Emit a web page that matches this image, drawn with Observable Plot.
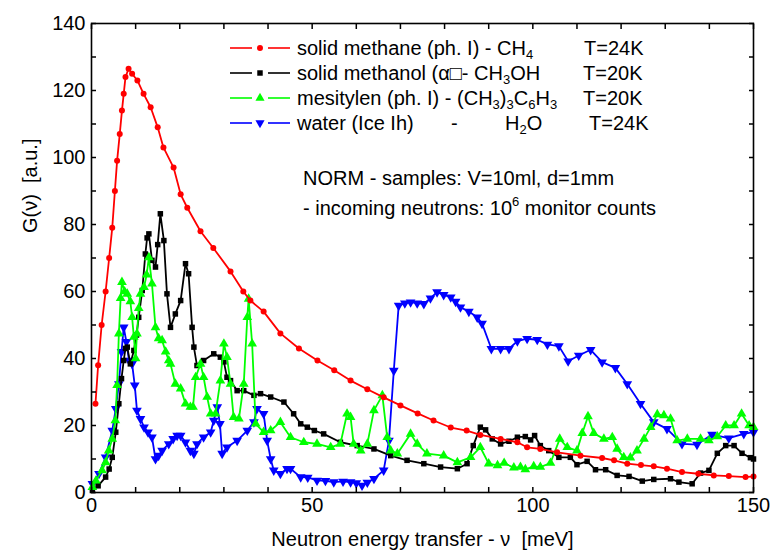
<!DOCTYPE html>
<html><head><meta charset="utf-8">
<script src="https://cdn.jsdelivr.net/npm/d3@7"></script>
<script src="https://cdn.jsdelivr.net/npm/@observablehq/plot@0.6"></script>
<style>body{margin:0;background:#fff;font-family:"Liberation Sans",Arial,sans-serif;}</style>
</head><body><div id="chart"></div>
<script>
// ---- data ----
const methaneE = [0.9,1.5,2.3,3.2,4.0,4.7,5.3,5.8,6.4,6.9,7.3,7.7,8.4,9.2,10.4,11.8,13.4,15.0,16.3,18.6,20.2,21.7,24.7,27.6,31.5,34.4,36,39,42.8,47,51.2,55,58.7,62.5,66.2,70,73.9,77.5,81.4,85,88.1,92.7,96.5,98.7,101.7,105.5,110.8,115.7,118.4,121.4,124.5,127.4,130.4,133.8,137.5,141,144.4,148.2,150];
const methaneG = [26.5,38,50,60,70,79,90,99,107,114,119,124,126.5,125,123,119,115,109,103,97,89,85,78,73,66,60,57.3,54,47.5,43,39.4,36.5,33.4,30.8,28.4,26,23.6,21.5,19.4,18.5,17.2,16,15,13.5,13,12,11,10.3,9.6,8.6,8.2,7.8,7.1,6.1,5.6,5.1,4.9,4.6,4.8];

const methanolE = [0.2,1.5,3.2,4.0,4.7,5.5,6.2,6.8,7.3,7.7,8.1,8.8,9.6,10.2,10.7,11.5,12.2,12.6,13.0,13.7,14.5,15.0,15.6,16.4,17.1,17.9,19.0,20.2,21.3,22.0,22.8,23.2,23.9,25.4,27.7,29.2,30.0,30.7,31.5,33.0,34.5,36.8,38.3,40.6,43.6,45.8,47.4,48.9,50.5,52.6,56.4,60.2,64,67.8,71.5,75.3,79.1,82.9,85.1,86.5,88.1,89.3,90.8,92.7,94.6,96.5,98.3,99.5,100.4,101.7,103.6,105.9,108.5,110,112.3,114.2,116.5,119.1,121.8,124.8,127.4,131.2,133.1,136.1,138,139.9,141.8,143.7,145.6,147.4,149.3,150];
const methanolG = [0.6,2,4.6,7,10.5,18,26.5,34,39.4,43,43.4,38.4,42.4,47,52.3,60.3,71.2,76,77.2,69.3,67.3,74,83.2,75.2,59.3,49.3,53.3,57.3,68.3,65.3,49.3,43.4,37.9,39.4,41.4,40.4,39,34.4,33.4,30.4,30.4,29,29.5,28.5,27,23.5,20.5,19.5,18.5,17.5,15,14,13,11,9.6,8.6,7.6,7.1,8.6,14,19.5,18.7,16,14.5,15.3,16.5,16.7,15.7,17,14,12.5,10.5,10.5,8.3,9.3,6.8,6.8,5.1,4.8,3.4,3.9,4.1,3.1,2.6,5.8,6.6,11.7,14,14,11.7,10.4,10];

const mesityleneE = [0.2,1.0,2.4,3.2,3.9,4.7,5.4,5.8,6.2,6.6,6.9,7.5,8.1,8.8,9.2,9.6,10.0,10.3,10.7,11.1,11.9,12.5,13.0,13.7,14.5,15.2,16.0,16.8,17.5,17.9,19,20.2,21.3,22.4,23.0,23.6,24.7,25.4,26.2,27.0,28.1,29.2,30.0,30.7,31.5,32.2,33.4,34.5,35.3,35.6,36.4,37.2,39,40.6,42.8,45.1,48.1,51.1,54.2,56.4,57.9,58.7,59.4,61,62.5,64,65.9,67,67.8,69.3,72.3,73.8,76,79.8,82.9,85.9,88.1,90,92,93.5,95.7,97.2,98.3,100.2,101.7,104,106.1,107.8,110,111.2,112.5,113.8,116.1,118,119.1,120.6,122.1,123.6,125.2,126.7,128.2,129.7,131.2,132.7,135,138,139.9,141.8,143.7,145.6,147.3,149,150];
const mesityleneG = [1.6,3.5,6.6,9,12.5,16,21.5,32,47.4,58,62.8,60,59.3,57,52.3,46.4,40,47.4,55,59.3,61.3,65,70.2,62.3,49.3,46,45.4,42,39.4,38.4,32.4,31,26.5,25.5,25.5,34.4,38.4,34.4,28.5,23.5,23.5,33.4,44.4,40.4,32.4,22.5,22,32.4,52.3,57.8,44.4,20.5,18,18.5,21,16.5,15,14.5,13.5,14.5,23.5,22.5,14.5,12.5,14.5,24.5,29,16.5,12.5,11.6,17.5,14.5,11.6,11,9,10.5,13.5,8.6,8.1,8.8,7.4,7.6,6.9,7.8,7.6,8.8,16,13.5,12.5,17.7,22.7,17.7,16,16.5,13,10.5,10.4,12.5,16,19.5,23.3,23,22,15.5,16,16,15.5,16.7,20,20,23.5,20,19.5];

const waterE = [0.2,1.7,3.2,4.7,5.5,6.2,6.8,7.3,7.9,8.5,9.2,9.8,10.3,11.1,11.9,12.8,13.7,14.5,15.2,16.0,17.5,18.5,19.4,20.2,21.3,22.4,23.2,23.9,25.4,27.0,27.7,28.5,29.1,29.6,30.7,33.0,35.3,36.8,37.5,39.0,39.8,40.6,41.3,42.8,44.3,45.1,47.4,49,51.1,53,54.9,57,58.7,60,61.3,62.5,64,66.2,67.4,68.5,69.6,71,72.3,73.8,75.3,76.8,78.3,79.8,81.4,82.5,83.6,85.5,87.4,88.5,90.6,92.7,94.6,96.5,98.7,101,103.3,105.9,108,110.4,113.1,115.7,118.7,121.4,124.4,127.4,130.4,133.8,137.2,140.6,144.4,147.8,150];
const waterG = [2.6,5.6,10.5,18.5,25,32.4,42,49.3,45,39.4,38.4,32,24.5,22,19.5,18,16.5,10,11,12.5,14.5,16,17,17,15,12.5,11.6,14.5,16.5,18,21.5,25.5,20.5,11.6,13.5,15.5,18.5,21,25,23.5,15.5,10,6.6,5.6,7.1,7.1,4.6,4.5,3.6,3.5,3.1,3.3,3.1,2.8,2.1,3,4.1,6.6,15.5,36.4,55.8,56.5,56.8,56.5,56.3,58,59.8,59,58.3,57,55.3,54,52.3,50.4,42.9,42.9,42.9,45.2,45.9,45.6,44.2,43.7,39.2,40.9,42.6,38.9,37.2,32.4,26.5,21,19,14.5,14.3,17.3,16.2,17.5,18];

const xMajorTicks = [0, 50, 100, 150];
const xMinorTicks = [0,10,20,30,40,50,60,70,80,90,100,110,120,130,140,150];
const yMajorTicks = [0, 20, 40, 60, 80, 100, 120, 140];
const yMinorTicks = [0,10,20,30,40,50,60,70,80,90,100,110,120,130,140];

const xTitle = "Neutron energy transfer - \u03BD  [meV]";
const yTitle = "G(\u03BD)  [a.u.]";

// ---- build table ----
const triangleDown = {
  draw(ctx, size) {
    const s3 = Math.sqrt(3);
    const y = -Math.sqrt(size / (s3 * 3));
    ctx.moveTo(0, -y * 2);
    ctx.lineTo(-s3 * y, y);
    ctx.lineTo(s3 * y, y);
    ctx.closePath();
  }
};
const series = [
  {key: "water", E: waterE, G: waterG, color: "#0000ff", symbol: triangleDown, r: 3.6},
  {key: "methanol", E: methanolE, G: methanolG, color: "#000000", symbol: "square", r: 3.1},
  {key: "mesitylene", E: mesityleneE, G: mesityleneG, color: "#00ff00", symbol: "triangle", r: 3.6},
  {key: "methane", E: methaneE, G: methaneG, color: "#ff0000", symbol: "circle", r: 3.0}
];
const seriesMarks = series.flatMap(s => {
  const rows = s.E.map((e, i) => ({E: e, G: s.G[i]}));
  return [
    Plot.line(rows, {x: "E", y: "G", stroke: s.color, strokeWidth: 1.8}),
    Plot.dot(rows, {x: "E", y: "G", fill: s.color, stroke: "none", symbol: () => s.symbol, r: s.r})
  ];
});

const tickOpts = {tickSize: -5, tickFormat: () => "", label: null, strokeWidth: 1.5};
const plot = Plot.plot({
  width: 776, height: 557,
  marginLeft: 91, marginRight: 23, marginTop: 23, marginBottom: 65,
  style: {fontFamily: "'Liberation Sans', Arial, sans-serif", fontSize: "20px", background: "#fff", color: "#000"},
  x: {domain: [0, 150]},
  y: {domain: [0, 140]},
  marks: [
    ...seriesMarks,
    Plot.frame({stroke: "#000", strokeWidth: 1.6}),
    Plot.axisX(xMinorTicks, {anchor: "bottom", ...tickOpts}),
    Plot.axisX(xMinorTicks, {anchor: "top", ...tickOpts}),
    Plot.axisY(yMinorTicks, {anchor: "left", ...tickOpts}),
    Plot.axisY(yMinorTicks, {anchor: "right", ...tickOpts}),
    Plot.axisX(xMajorTicks, {anchor: "bottom", tickSize: 0, tickPadding: 5, label: null, fontSize: 20, fill: "#000"}),
    Plot.axisY(yMajorTicks, {anchor: "left", tickSize: 0, tickPadding: 6, label: null, fontSize: 20, fill: "#000"}),
    Plot.text([xTitle], {frameAnchor: "bottom", dy: 53, text: d => d, fontSize: 20, fill: "#000"}),
    Plot.text([yTitle], {frameAnchor: "left", dx: -61, dy: -25, rotate: -90, text: d => d, fontSize: 20, fill: "#000"})
  ]
});
document.getElementById("chart").appendChild(plot);

// ---- legend and note (layout overlay inside the plot svg) ----
const svg = d3.select(plot);
const g = svg.append("g")
  .attr("font-family", "'Liberation Sans', Arial, sans-serif")
  .attr("font-size", 20).attr("fill", "#000").attr("text-anchor", "start");
const legendRows = [
  {color: "#ff0000", symbol: d3.symbolCircle, size: 28, parts: [["solid methane (ph. I) - CH"], ["4", "sub"]], temp: "T=24K", tx: 584},
  {color: "#000000", symbol: d3.symbolSquare, size: 30, parts: [["solid methanol (\u03B1\u25A1- CH"], ["3", "sub"], ["OH"]], temp: "T=20K", tx: 583},
  {color: "#00ff00", symbol: d3.symbolTriangle, size: 36, parts: [["mesitylen (ph. I) - (CH"], ["3", "sub"], [")"], ["3", "sub"], ["C"], ["6", "sub"], ["H"], ["3", "sub"]], temp: "T=20K", tx: 583},
  {color: "#0000ff", symbol: triangleDown, size: 36, parts: [["water (Ice Ih)"]], extra: true, temp: "T=24K", tx: 589}
];
const SUB = 4;
function addParts(text, parts) {
  let shifted = false;
  for (const [t, kind] of parts) {
    const ts = text.append("tspan").text(t);
    if (kind === "sub") { ts.attr("font-size", 13).attr("dy", shifted ? 0 : SUB); shifted = true; }
    else if (shifted) { ts.attr("dy", -SUB); shifted = false; }
  }
}
legendRows.forEach((row, i) => {
  const yc = 48 + i * 25;
  const base = yc + 7;
  g.append("line").attr("x1", 230).attr("x2", 252).attr("y1", yc).attr("y2", yc).attr("stroke", row.color).attr("stroke-width", 1.6);
  g.append("line").attr("x1", 268).attr("x2", 290).attr("y1", yc).attr("y2", yc).attr("stroke", row.color).attr("stroke-width", 1.6);
  g.append("path").attr("d", d3.symbol(row.symbol, row.size)()).attr("transform", `translate(260,${yc})`).attr("fill", row.color);
  const t = g.append("text").attr("x", 297).attr("y", base);
  addParts(t, row.parts);
  if (row.extra) {
    g.append("text").attr("x", 451).attr("y", base).text("-");
    const h = g.append("text").attr("x", 505).attr("y", base);
    addParts(h, [["H"], ["2", "sub"], ["O"]]);
  }
  g.append("text").attr("x", row.tx).attr("y", base).text(row.temp);
});
g.append("text").attr("x", 303).attr("y", 185).text("NORM - samples: V=10ml, d=1mm");
const inc = g.append("text").attr("x", 303).attr("y", 215);
inc.append("tspan").text("- incoming neutrons: 10");
inc.append("tspan").attr("font-size", 13).attr("dy", -9).text("6");
inc.append("tspan").attr("dy", 9).text(" monitor counts");
</script>
</body></html>
